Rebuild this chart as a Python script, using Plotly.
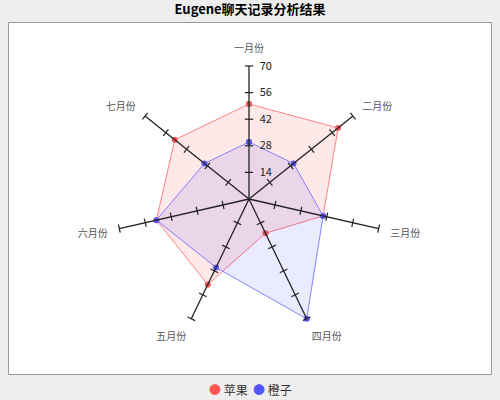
import plotly.graph_objects as go

categories = ["一月份", "二月份", "三月份", "四月份", "五月份", "六月份", "七月份"]
apple = [50, 60, 40, 20, 50, 50, 50]
orange = [30, 30, 40, 70, 40, 50, 30]
radial_ticks = [14, 28, 42, 56, 70]
series_names = ["苹果", "橙子"]
legend_colors = ["#FF5555", "#5555FF"]

fig = go.Figure()

# series polygons
for name, vals, line_c, fill_c, mk in [
    (series_names[0], apple, "rgba(255,110,110,0.85)", "rgba(255,0,0,0.09)", "#F05858"),
    (series_names[1], orange, "rgba(110,110,255,0.85)", "rgba(0,0,255,0.08)", "#5858F0"),
]:
    fig.add_trace(go.Scatterpolar(
        r=vals + vals[:1], theta=categories + categories[:1],
        mode="lines+markers", fill="toself", fillcolor=fill_c,
        line=dict(color=line_c, width=1),
        marker=dict(color=mk, size=6),
        name=name, showlegend=False, hoverinfo="skip",
    ))

# spokes with tick marks
n = len(categories)
for i, cat in enumerate(categories):
    fig.add_trace(go.Scatterpolar(
        r=[0, radial_ticks[-1]], theta=[cat, cat], mode="lines",
        line=dict(color="#222222", width=1.3), showlegend=False, hoverinfo="skip",
    ))
    fig.add_trace(go.Scatterpolar(
        r=radial_ticks, theta=[cat] * len(radial_ticks), mode="markers",
        marker=dict(symbol="line-ew", size=6, angle=i * 360 / n,
                    line=dict(color="#222222", width=1.2)),
        showlegend=False, hoverinfo="skip",
    ))

W, H = 500, 400
cx, cy = 249, 199
rmax = 76
R = 133 * rmax / 70

legend_text = "&nbsp;&nbsp;".join(
    f"<span style='color:{c}'>●</span> {nm}" for nm, c in zip(series_names, legend_colors)
)

fig.update_layout(
    width=W, height=H,
    margin=dict(l=0, r=0, t=0, b=0),
    paper_bgcolor="#EEEEEE",
    showlegend=False,
    font=dict(family="Noto Sans CJK SC, DejaVu Sans", color="#333333"),
    title=dict(text="<b>Eugene聊天记录分析结果</b>", x=0.5, xanchor="center",
               y=1 - 9 / H, yanchor="middle", font=dict(size=13, color="#000000")),
    shapes=[dict(type="rect", xref="paper", yref="paper",
                 x0=8.5 / W, x1=491.5 / W, y0=1 - 374.5 / H, y1=1 - 22.5 / H,
                 fillcolor="white", line=dict(color="#999999", width=1), layer="below")],
    annotations=[dict(text=legend_text, xref="paper", yref="paper", x=0.5, y=1 - 389 / H,
                      xanchor="center", yanchor="middle", showarrow=False,
                      font=dict(size=12, color="#333333"))],
    polar=dict(
        domain=dict(x=[(cx - R) / W, (cx + R) / W], y=[(H - cy - R) / H, (H - cy + R) / H]),
        bgcolor="rgba(0,0,0,0)",
        gridshape="linear",
        angularaxis=dict(direction="clockwise", rotation=90, showgrid=False,
                         showline=False, ticks="", categoryorder="array",
                         categoryarray=categories,
                         tickfont=dict(size=10, color="#555555")),
        radialaxis=dict(range=[0, rmax], angle=90, tickangle=90, showgrid=False,
                        showline=False, ticks="outside", ticklen=8,
                        tickcolor="rgba(0,0,0,0)", tickvals=radial_ticks,
                        tickfont=dict(size=11, color="#222222")),
    ),
)

fig.write_html("out.html", config={"displayModeBar": False},
               post_script="document.body.style.margin='0px';")
